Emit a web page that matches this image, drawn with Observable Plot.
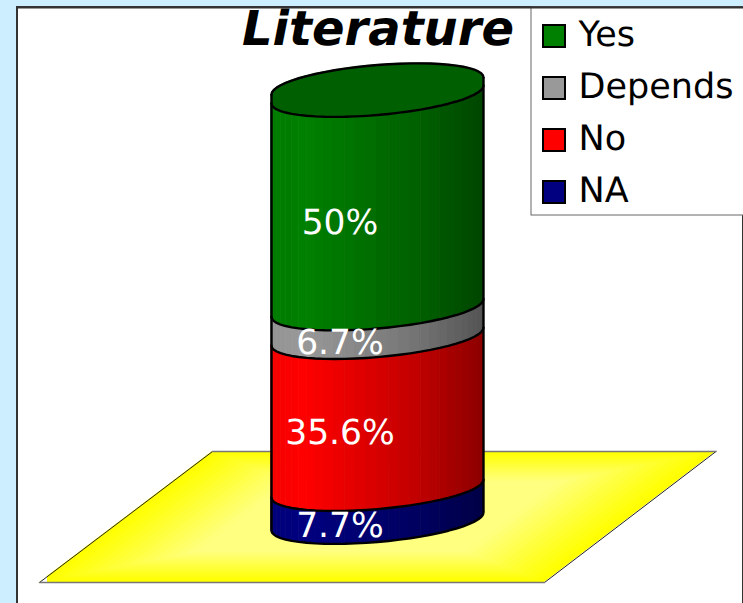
<!DOCTYPE html>
<html><head><meta charset="utf-8">
<script src="https://cdn.jsdelivr.net/npm/d3@7"></script>
<script src="https://cdn.jsdelivr.net/npm/@observablehq/plot@0.6"></script>
<style>html,body{margin:0;padding:0;background:#cceeff;overflow:hidden}svg{display:block}text{text-rendering:geometricPrecision}</style>
</head><body><div id="chart"></div>
<script>
const title = "Literature";
const categories = ["Yes", "Depends", "No", "NA"];
const values = [50, 6.7, 35.6, 7.7];
const labels = ["50%", "6.7%", "35.6%", "7.7%"];
const colors = ["#008000", "#999999", "#ff0000", "#000080"];

// percent scale: 0 at the cylinder's left foot, 100 at the left end of the top band
const W = 743, H = 603, pxPerPct = 4.27, foot = 530;
const py = p => (foot - p) / pxPerPct;           // page pixel -> percent
const cx = 377, a = 106, steps = 30;

// stacked bands, bottom up
const order = [3, 2, 1, 0];
let acc = 0;
const bands = order.map(i => { const b = {i, lo: acc, hi: acc + values[i]}; acc += values[i]; return b; });

const offs = d3.range(steps + 1).map(k => {
  const t = Math.PI * k / steps;
  return {x: cx - a * Math.cos(t), u: -Math.cos(t), s: Math.sin(t)};
});
// rim shape, as an offset in percent from a band's nominal left-end height
const front = o => (9 + 9 * o.u - 20.5 * o.s) / pxPerPct;
const back  = o => (17.5 + 8.5 * o.u + 21 * o.s) / pxPerPct;
const shade = x => x < 305 ? 0.96 + 0.04 * (x - 271) / 34
                 : x < 420 ? 1 - 0.25 * (x - 305) / 115
                 : 0.75 - 0.2 * (x - 420) / 63;
const tint = (col, f) => { const c = d3.rgb(col); return d3.rgb(c.r * f, c.g * f, c.b * f).formatHex(); };

const strips = [];
bands.forEach(b => {
  for (let k = 0; k < steps; k++) {
    const o0 = offs[k], o1 = offs[k + 1], id = b.i + "-" + k;
    const fill = tint(colors[b.i], shade((o0.x + o1.x) / 2));
    for (const o of [o0, o1]) strips.push({id, fill, x: o.x, y1: b.lo + front(o), y2: b.hi + front(o)});
  }
});
const edges = bands.map(b => offs.map(o => ({x: o.x, y: b.hi + front(o)})));
const topFace = offs.map(o => ({x: o.x, y1: 100 + front(o), y2: 100 + back(o)}));
const outlineBack = offs.map(o => ({x: o.x, y: 100 + back(o)}));
const base = offs.map(o => ({x: o.x, y: front(o)}));

// ground: nested parallelograms for the pale centre
const G = {top: 451, bot: 582, tl: 212, tr: 715.5, bl: 39, br: 544};
const gx = (G.tl + G.tr + G.bl + G.br) / 4, gy = (G.top + G.bot) / 2;
const ground = [];
const nest = 30;
for (let n = 0; n < nest; n++) {
  const f = 1 - n / nest, e = Math.min(1, n / (nest * 0.45));
  const fill = d3.interpolateRgb("#ffff00", "#ffff80")(e);
  ground.push({n, fill, y: gy + (G.top - gy) * f, x1: gx + (G.tl - gx) * f, x2: gx + (G.tr - gx) * f});
  ground.push({n, fill, y: gy + (G.bot - gy) * f, x1: gx + (G.bl - gx) * f, x2: gx + (G.br - gx) * f});
}

const legend = categories.map((c, i) => ({c, col: colors[i], y: 36 + 52 * i}));
const midLabels = bands.map(b => ({text: labels[b.i], p: (b.lo + b.hi) / 2, nudge: b.i === 0 ? 13 : 11.5}));
const gy2 = d => py(d[1]);
const ink = 2.4;

const chart = Plot.plot({
  width: W, height: H, margin: 0,
  style: {background: "#cceeff", fontFamily: "'DejaVu Sans', sans-serif"},
  x: {domain: [0, W], range: [0, W], axis: null},
  y: {domain: [py(H), py(0)], range: [H, 0], axis: null},
  marks: [
    // panel
    Plot.rect([0], {x1: 17, x2: W, y1: py(H + 4), y2: py(7), fill: "white", stroke: "#333", strokeWidth: 2}),
    // ground
    Plot.areaX(ground, {y: d => py(d.y), x1: "x1", x2: "x2", z: "n", fill: "fill"}),
    Plot.areaX([{y: 575, x1: 47, x2: 47}, {y: G.bot, x1: G.bl, x2: 47}], {y: d => py(d.y), x1: "x1", x2: "x2", fill: "white"}),
    Plot.line([[G.bl, G.bot], [G.tl, G.top]], {x: d => d[0], y: gy2, stroke: "#222", strokeWidth: 1}),
    Plot.line([[G.br, G.bot], [G.tr, G.top]], {x: d => d[0], y: gy2, stroke: "#222", strokeWidth: 1}),
    Plot.line([[G.tl, G.top], [G.tr, G.top]], {x: d => d[0], y: gy2, stroke: "#777", strokeWidth: 1.5}),
    Plot.line([[G.bl, G.bot], [G.br, G.bot]], {x: d => d[0], y: gy2, stroke: "#777", strokeWidth: 1.5}),
    // cylinder sides
    Plot.areaY(strips, {x: "x", y1: "y1", y2: "y2", z: "id", fill: "fill", stroke: "fill", strokeWidth: 1}),
    // top face
    Plot.areaY(topFace, {x: "x", y1: "y1", y2: "y2", fill: "#005f00", stroke: "#005f00", strokeWidth: 0.5}),
    // band outlines
    ...edges.map(e => Plot.line(e, {x: "x", y: "y", stroke: "black", strokeWidth: ink})),
    Plot.line(outlineBack, {x: "x", y: "y", stroke: "black", strokeWidth: ink}),
    Plot.line(base, {x: "x", y: "y", stroke: "black", strokeWidth: ink}),
    Plot.ruleX([cx - a], {y1: 0, y2: 100 + back(offs[0]), stroke: "black", strokeWidth: ink}),
    Plot.ruleX([cx + a], {y1: front(offs[steps]), y2: 100 + back(offs[steps]), stroke: "black", strokeWidth: ink}),
    // data labels
    Plot.text(midLabels, {x: 339.5, y: d => d.p - d.nudge / pxPerPct, text: "text", fill: "white", fontSize: 34.5, textAnchor: "middle"}),
    // title
    Plot.text([title], {x: 377.5, y: py(29), text: d => d, fontSize: 48, fontWeight: "bold", fontStyle: "italic", fill: "black", textAnchor: "middle"}),
    // legend
    Plot.rect([0], {x1: 531, x2: W + 4, y1: py(215), y2: py(7), fill: "white", stroke: "#666", strokeWidth: 1}),
    Plot.ruleY([py(7)], {x1: 17, x2: W, stroke: "#333", strokeWidth: 2}),
    Plot.rect(legend, {x1: 543, x2: 565, y1: d => py(d.y + 11), y2: d => py(d.y - 11), fill: "col", stroke: "black", strokeWidth: 2}),
    Plot.text(legend, {x: 578, y: d => py(d.y - 2), text: "c", fontSize: 35, textAnchor: "start", fill: "black"})
  ]
});
document.getElementById("chart").append(chart);
</script></body></html>
